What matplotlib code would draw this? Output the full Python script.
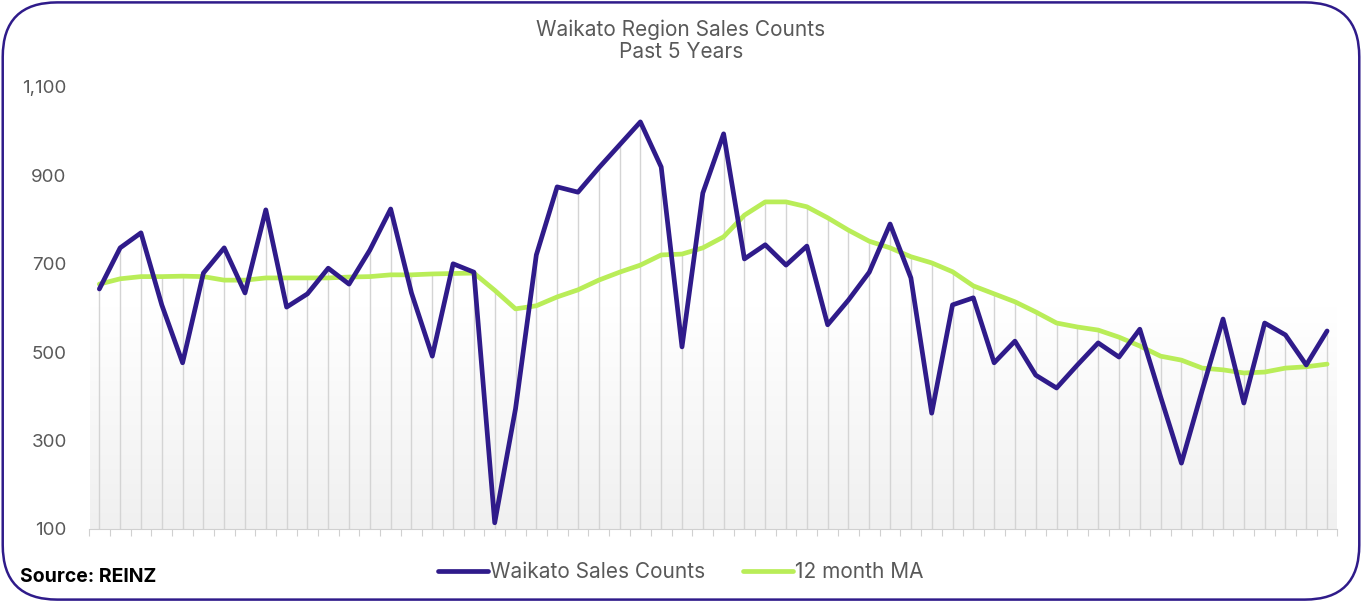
import numpy as np
import matplotlib.pyplot as plt
from matplotlib.patches import FancyBboxPatch
from matplotlib.ticker import FuncFormatter

# Maandelijkse verkopen (60 maanden) en 12-maands voortschrijdend gemiddelde
verkopen = [643, 736, 770, 607, 476, 679, 736, 634, 822, 602,
            632, 690, 654, 731, 824, 634, 491, 700, 681, 114,
            372, 720, 874, 862, 917, 969, 1021, 919, 512, 860,
            994, 711, 743, 697, 740, 562, 618, 681, 790, 668,
            362, 607, 623, 476, 525, 448, 419, 471, 521, 489,
            552, 399, 249, 414, 575, 385, 566, 539, 471, 548]
gemiddelde = [654, 666, 671, 671, 672, 671, 663, 663, 668, 668,
              668, 668, 670, 671, 675, 675, 677, 678, 679, 640,
              598, 605, 625, 641, 663, 681, 697, 720, 722, 736,
              761, 810, 840, 840, 829, 804, 776, 751, 736, 716,
              702, 682, 650, 632, 614, 591, 566, 557, 550, 534,
              514, 491, 482, 464, 460, 453, 455, 464, 467, 473]
y_ticks = [100, 300, 500, 700, 900, 1100]

blauw = '#2f1b8a'
groen = '#b9ed58'
grijs = '#595959'

plt.rcParams['font.family'] = ['Inter', 'DejaVu Sans']
fig = plt.figure(figsize=(13.62, 6.02), dpi=100)

# Afgeronde rand om de hele afbeelding
rand = FancyBboxPatch((0.002, 0.004), 0.996, 0.992, boxstyle="round,pad=0,rounding_size=0.04",
                      transform=fig.transFigure, fill=False, edgecolor=blauw, linewidth=1.8,
                      mutation_aspect=1362 / 602)
fig.patches.append(rand)

ax = fig.add_axes([0.0653, 0.1213, 0.9167, 0.7342])
x = np.arange(len(verkopen))
ax.set_xlim(-0.45, len(verkopen) - 0.55)
ax.set_ylim(100, 1100)

# Verloop van wit naar lichtgrijs als achtergrond
verloop = np.linspace(0, 1, 256).reshape(-1, 1)
cmap = plt.matplotlib.colors.LinearSegmentedColormap.from_list('v', ['#ffffff', '#ffffff', '#f0f0f0'])
ax.imshow(verloop, cmap=cmap, extent=[-0.45, len(verkopen) - 0.55, 100, 1100],
          origin='upper', aspect='auto', zorder=0)

# Loodlijnen vanaf de hoogste van beide reeksen
top = np.maximum(verkopen, gemiddelde)
ax.vlines(x, 100, top, color='#d4d4d4', linewidth=1.0, zorder=1)

ax.plot(x, verkopen, color=blauw, linewidth=3.4, solid_capstyle='round',
        label='Waikato Sales Counts', zorder=3)
ax.plot(x, gemiddelde, color=groen, linewidth=3.4, solid_capstyle='round',
        label='12 month MA', zorder=2)

ax.set_yticks(y_ticks)
ax.yaxis.set_major_formatter(FuncFormatter(lambda v, p: f'{int(v):,}'))
ax.tick_params(axis='y', length=0, pad=16, labelsize=13.5, labelcolor=grijs)
ax.set_xticks(np.arange(-0.5, len(verkopen), 1.0))
ax.set_xticklabels([])
ax.tick_params(axis='x', length=5, color='#d0d0d0', direction='out')
for kant in ['top', 'right', 'left']:
    ax.spines[kant].set_visible(False)
ax.spines['bottom'].set_color('#d0d0d0')

fig.text(0.5, 0.951, 'Waikato Region Sales Counts', ha='center', va='center', fontsize=15, color=grijs)
fig.text(0.5, 0.913, 'Past 5 Years', ha='center', va='center', fontsize=15, color=grijs)
fig.text(0.015, 0.041, 'Source: REINZ', ha='left', va='center', fontsize=14, fontweight='bold', color='black')

fig.legend(loc='center', bbox_to_anchor=(0.5, 0.05), ncol=2, frameon=False, fontsize=15,
           handlelength=2.4, handletextpad=0.1, columnspacing=1.8, labelcolor=grijs)

fig.savefig('out.png', dpi=100)
